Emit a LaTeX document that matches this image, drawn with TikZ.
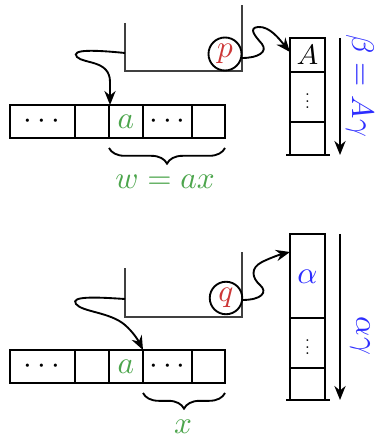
\documentclass[tikz,border=0pt]{standalone}
\usetikzlibrary{decorations.pathreplacing,arrows.meta}
\definecolor{tgreen}{RGB}{76,165,76}
\definecolor{tred}{RGB}{205,55,55}
\definecolor{tblue}{RGB}{45,45,255}
\begin{document}
\begin{tikzpicture}[x=0.32pt,y=-0.32pt,line width=0.6pt,
  arr/.style={-{Stealth[length=4.5pt,width=3.6pt]}},
  state/.style={circle,draw,inner sep=0.9pt,text=tred},
  brc/.style={decorate,decoration={brace,mirror,amplitude=5pt}},
  ctl/.style={draw=black!75},
  vd/.style={scale=0.55},
  lbl/.style={text=tblue,rotate=-90}]
\useasboundingbox (0,0) rectangle (377,436);
% ---------- top part ----------
\draw (10,105) rectangle (225,138);
\foreach \x in {75,109,143,192} \draw (\x,105) -- (\x,138);
\node (t1) at (42,121.5) {$\cdots$};
\node[text=tgreen] (ta) at (126,121.5) {$a$};
\node (t2) at (167.5,121.5) {$\cdots$};
\draw[ctl] (125,23) -- (125,71) -- (242,71) -- (242,5);
\node[state] (p) at (225,54) {$p$};
\draw (290,38) rectangle (325,155);
\draw (290,72) -- (325,72) (290,122) -- (325,122);
\draw (286,155) -- (330,155);
\node[font=\small] (sA) at (307.5,55) {$A$};
\node[vd] (sd1) at (307.5,96) {$\vdots$};
\coordinate (s1top) at (340,38);
\coordinate (s1bot) at (340,155);
\draw[arr] (s1top) -- (s1bot);
\node[lbl] (beta) at (360,86) {$\beta = A\gamma$};
\coordinate (b1l) at (109,148);
\coordinate (b1r) at (225,148);
\draw[brc] (b1l) -- (b1r);
\node[text=tgreen] (w) at (165,182) {$w = ax$};
\coordinate (u1) at (125,53);
\coordinate (h1) at (110,105);
\draw[arr] (u1) .. controls (95,50) and (70,49) .. (77,57) .. controls (84,64) and (110,60) .. (110,82) -- (h1);
\coordinate (u1r) at (242,58);
\coordinate (e1) at (290,52);
\draw[arr] (u1r) .. controls (258,58) and (268,52) .. (262,44) .. controls (255,36) and (248,28) .. (258,27) .. controls (270,26) and (280,40) .. (e1);
% ---------- bottom part ----------
\draw (10,350) rectangle (225,383);
\foreach \x in {75,109,143,192} \draw (\x,350) -- (\x,383);
\node (b1) at (42,366.5) {$\cdots$};
\node[text=tgreen] (ba) at (126,366.5) {$a$};
\node (b2) at (167.5,366.5) {$\cdots$};
\draw[ctl] (125,268) -- (125,317) -- (242,317) -- (242,252);
\node[state] (q) at (226,298) {$q$};
\draw (290,234) rectangle (325,400);
\draw (290,318) -- (325,318) (290,368) -- (325,368);
\draw (286,400) -- (330,400);
\node[text=tblue] (sal) at (307.5,277) {$\alpha$};
\node[vd] (sd2) at (307.5,342) {$\vdots$};
\coordinate (s2top) at (340,234);
\coordinate (s2bot) at (340,400);
\draw[arr] (s2top) -- (s2bot);
\node[lbl] (ag) at (360,336) {$\alpha\gamma$};
\coordinate (b2l) at (143,393);
\coordinate (b2r) at (225,393);
\draw[brc] (b2l) -- (b2r);
\node[text=tgreen] (xl) at (183,427) {$x$};
\coordinate (u2) at (125,299);
\coordinate (h2) at (143,350);
\draw[arr] (u2) .. controls (95,297) and (70,296) .. (76,304) .. controls (82,312) and (110,312) .. (125,325) .. controls (133,332) and (138,340) .. (h2);
\coordinate (u2r) at (242,300);
\coordinate (e2) at (290,252);
\draw[arr] (u2r) .. controls (262,300) and (268,292) .. (260,285) .. controls (252,278) and (250,268) .. (262,262) .. controls (272,257) and (282,254) .. (e2);
\end{tikzpicture}
\end{document}
